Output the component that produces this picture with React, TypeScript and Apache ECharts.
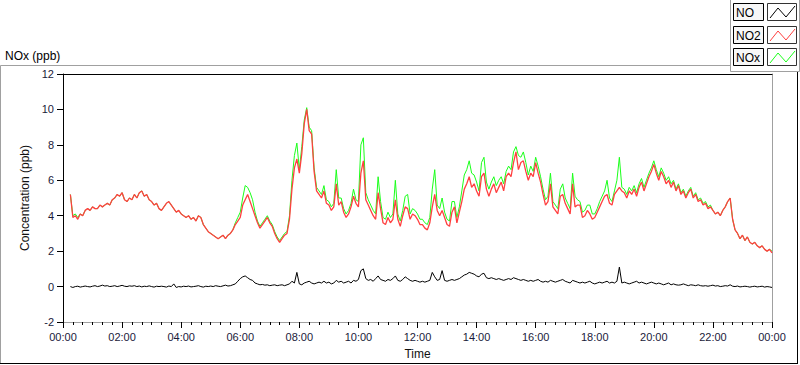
import React, { useEffect, useRef } from "react";
import * as echarts from "echarts";

// 5-minute samples, 00:00 .. 24:00 (289 points)
const STEP_MIN = 5;
const xTickLabels = ["00:00", "02:00", "04:00", "06:00", "08:00", "10:00", "12:00", "14:00", "16:00", "18:00", "20:00", "22:00", "00:00"];

const no2: (number | null)[] = [
  5.8, null, null, 5.2, 3.9, 4.0, 3.8, 4.1, 4.0, 4.3,
  4.4, 4.3, 4.5, 4.4, 4.4, 4.6, 4.5, 4.6, 4.7, 4.6,
  4.9, 5.0, 5.2, 5.1, 5.3, 4.9, 4.8, 5.0, 4.9, 5.2,
  5.0, 5.3, 5.4, 5.1, 5.2, 4.9, 4.8, 4.6, 4.7, 4.4,
  4.3, 4.5, 4.7, 4.8, 4.6, 4.4, 4.2, 4.3, 4.1, 4.0,
  3.9, 4.0, 3.8, 3.9, 3.7, 4.0, 3.9, 3.5, 3.3, 3.1,
  3.0, 2.9, 2.8, 2.7, 2.8, 2.9, 2.7, 2.9, 3.0, 3.2,
  3.5, 3.7, 3.9, 4.6, 4.9, 5.2, 4.8, 4.4, 4.0, 3.6,
  3.3, 3.5, 3.7, 3.9, 3.6, 3.4, 3.0, 2.7, 2.5, 2.7,
  2.9, 3.0, 3.8, 5.5, 6.7, 7.2, 6.4, 7.5, 9.2, 10.0,
  8.8, 8.6, 6.5, 5.4, 5.2, 5.0, 5.4, 4.7, 4.6, 4.3,
  4.5, 5.8, 4.6, 4.8, 4.2, 3.9, 4.1, 4.5, 5.1, 4.7,
  4.5, 6.4, 7.1, 4.9, 4.6, 4.3, 4.0, 3.8, 5.3, 4.4,
  3.6, 3.5, 3.9, 3.6, 3.8, 4.9, 3.8, 3.4, 4.0, 4.5,
  4.4, 3.8, 4.1, 4.0, 3.8, 3.5, 3.5, 3.3, 3.2, 3.6,
  4.5, 5.2, 4.3, 4.0, 4.3, 3.9, 3.5, 3.4, 4.2, 4.5,
  3.6, 4.2, 4.8, 5.5, 5.8, 6.2, 5.6, 5.8, 5.4, 5.1,
  6.2, 6.4, 5.5, 5.1, 5.5, 5.8, 5.3, 5.6, 5.9, 5.4,
  6.2, 6.4, 6.2, 7.0, 7.6, 6.6, 7.0, 7.1, 6.5, 6.0,
  6.4, 6.2, 7.0, 6.4, 5.9, 5.2, 4.6, 4.8, 5.8, 4.5,
  4.3, 4.1, 5.1, 5.2, 4.7, 4.4, 4.1, 5.8, 4.5, 4.6,
  4.6, 3.9, 4.0, 4.3, 4.1, 3.8, 3.9, 4.2, 4.5, 4.8,
  5.1, 5.2, 4.7, 4.6, 5.2, 5.4, 5.6, 5.4, 5.3, 5.0,
  5.4, 5.2, 5.5, 5.1, 5.6, 5.9, 5.4, 5.8, 6.2, 6.5,
  6.9, 6.4, 6.0, 6.5, 6.2, 5.8, 6.0, 5.6, 5.9, 5.4,
  5.7, 5.2, 5.4, 5.0, 5.3, 5.5, 5.0, 5.2, 4.8, 4.9,
  4.6, 4.7, 4.4, 4.5, 4.3, 4.1, 4.2, 4.0, 4.3, 4.5,
  4.8, 5.0, 3.8, 3.2, 3.0, 2.7, 2.9, 2.6, 2.8, 2.5,
  2.4, 2.5, 2.3, 2.2, 2.3, 2.1, 2.0, 2.1, 1.9,
];

const nox: (number | null)[] = [
  5.8, null, null, 5.2, 4.0, 4.1, 3.9, 4.1, 4.0, 4.3,
  4.4, 4.3, 4.5, 4.4, 4.4, 4.6, 4.5, 4.6, 4.7, 4.6,
  4.9, 5.0, 5.2, 5.1, 5.3, 4.9, 4.8, 5.0, 4.9, 5.2,
  5.0, 5.3, 5.4, 5.1, 5.2, 4.9, 4.8, 4.6, 4.7, 4.4,
  4.3, 4.5, 4.7, 4.8, 4.6, 4.4, 4.2, 4.3, 4.1, 4.0,
  3.9, 4.0, 3.8, 3.9, 3.7, 4.0, 3.9, 3.5, 3.3, 3.1,
  3.0, 2.9, 2.8, 2.7, 2.8, 2.9, 2.7, 2.9, 3.0, 3.2,
  3.6, 3.9, 4.2, 5.0, 5.7, 5.6, 5.3, 4.9, 4.2, 3.7,
  3.4, 3.6, 3.8, 4.0, 3.7, 3.5, 3.1, 2.8, 2.6, 2.8,
  3.0, 3.1, 4.0, 6.0, 7.4, 8.1, 6.6, 7.9, 9.4, 10.1,
  9.0, 8.8, 6.7, 5.6, 5.4, 5.2, 5.7, 4.9, 4.8, 4.5,
  4.7, 6.6, 5.0, 5.0, 4.4, 4.1, 4.3, 4.7, 5.5, 4.9,
  4.8, 8.0, 8.4, 5.3, 4.9, 4.6, 4.3, 4.1, 6.2, 4.8,
  3.9, 3.8, 4.2, 3.9, 4.1, 6.0, 4.1, 3.7, 4.3, 5.1,
  5.2, 4.1, 4.4, 4.3, 4.1, 3.8, 3.8, 3.6, 3.5, 3.9,
  5.5, 6.6, 4.6, 4.4, 5.0, 4.2, 3.8, 3.7, 4.8, 4.8,
  3.9, 4.5, 5.4, 6.3, 6.6, 7.1, 6.4, 6.3, 5.9, 5.4,
  7.0, 7.3, 5.9, 5.5, 5.9, 6.2, 5.7, 6.0, 6.2, 5.8,
  6.5, 6.8, 6.6, 7.6, 7.9, 7.4, 7.3, 7.6, 7.0, 6.3,
  6.8, 6.5, 7.3, 6.8, 6.2, 5.5, 4.9, 5.1, 6.4, 4.8,
  4.6, 4.4, 5.5, 5.8, 5.0, 4.7, 4.4, 6.4, 5.1, 4.9,
  4.8, 4.2, 4.3, 4.6, 4.6, 4.1, 4.1, 4.4, 4.8, 5.1,
  5.4, 6.0, 5.0, 4.8, 5.4, 6.0, 7.3, 5.6, 5.5, 5.2,
  5.6, 5.4, 5.7, 5.3, 5.8, 6.1, 5.6, 6.0, 6.4, 6.7,
  7.1, 6.6, 6.2, 6.7, 6.4, 6.0, 6.2, 5.8, 6.0, 5.5,
  5.8, 5.3, 5.5, 5.1, 5.4, 5.6, 5.1, 5.3, 4.9, 5.0,
  4.7, 4.8, 4.5, 4.6, 4.3, 4.1, 4.2, 4.0, 4.3, 4.5,
  4.8, 5.0, 3.8, 3.2, 3.0, 2.7, 2.9, 2.6, 2.8, 2.5,
  2.4, 2.5, 2.3, 2.2, 2.3, 2.1, 2.0, 2.1, 2.0,
];

const no: (number | null)[] = [
  0.0, null, null, 0.0, -0.05, 0.0, 0.02, -0.03, 0.0, 0.03,
  0.0, -0.02, 0.02, 0.05, 0.0, 0.03, 0.08, 0.03, 0.05, 0.0,
  0.02, 0.05, 0.0, 0.03, 0.07, 0.02, 0.0, 0.04, 0.02, 0.05,
  0.0, 0.03, -0.02, 0.02, 0.0, 0.04, 0.0, -0.03, 0.02, 0.0,
  0.02, 0.0, -0.03, 0.03, 0.0, 0.15, -0.05, 0.0, -0.02, 0.02,
  0.0, 0.03, -0.02, 0.0, 0.02, 0.05, 0.0, -0.03, 0.02, 0.0,
  0.03, 0.0, 0.05, 0.02, 0.0, 0.04, 0.08, 0.03, 0.05, 0.1,
  0.15, 0.3, 0.45, 0.55, 0.6, 0.5, 0.4, 0.35, 0.2, 0.15,
  0.1, 0.12, 0.08, 0.1, 0.05, 0.08, 0.1, 0.05, 0.08, 0.1,
  0.05, 0.1, 0.15, 0.3, 0.2, 0.8, 0.15, 0.1, 0.2, 0.25,
  0.3, 0.2, 0.15, 0.2, 0.25, 0.2, 0.3, 0.2, 0.25, 0.15,
  0.2, 0.35, 0.25, 0.3, 0.2, 0.25, 0.3, 0.2, 0.35, 0.3,
  0.4, 0.9, 1.0, 0.45, 0.35, 0.4, 0.3, 0.45, 0.6, 0.4,
  0.35, 0.3, 0.4, 0.35, 0.45, 0.6, 0.35, 0.3, 0.4, 0.55,
  0.45, 0.35, 0.3, 0.35, 0.3, 0.25, 0.3, 0.25, 0.3, 0.35,
  0.8, 0.55, 0.35, 0.4, 0.9, 0.35, 0.3, 0.35, 0.4, 0.35,
  0.4, 0.45, 0.55, 0.65, 0.7, 0.8, 0.75, 0.7, 0.6, 0.55,
  0.7, 0.75, 0.5, 0.45, 0.5, 0.45, 0.4, 0.45, 0.4, 0.35,
  0.4, 0.45, 0.4, 0.5, 0.45, 0.4, 0.35, 0.4, 0.35, 0.3,
  0.35, 0.3, 0.35, 0.4, 0.3, 0.25, 0.3, 0.25, 0.35, 0.3,
  0.25, 0.3, 0.35, 0.4, 0.3, 0.25, 0.2, 0.35, 0.3, 0.25,
  0.2, 0.25, 0.2, 0.25, 0.3, 0.2, 0.15, 0.2, 0.25, 0.2,
  0.25, 0.3, 0.2, 0.25, 0.2, 0.3, 1.1, 0.2, 0.25, 0.2,
  0.15, 0.2, 0.25, 0.3, 0.2, 0.25, 0.2, 0.15, 0.2, 0.25,
  0.2, 0.15, 0.2, 0.15, 0.1, 0.15, 0.2, 0.1, 0.15, 0.1,
  0.08, 0.1, 0.15, 0.1, 0.05, 0.1, 0.08, 0.05, 0.1, 0.05,
  0.03, 0.05, 0.02, 0.05, 0.08, 0.03, 0.05, 0.0, 0.02, 0.05,
  0.03, 0.1, 0.02, 0.0, 0.03, -0.02, 0.0, 0.02, 0.0, -0.03,
  0.0, 0.02, -0.02, 0.0, 0.02, -0.03, 0.0, -0.02, -0.05,
];

const seriesNames = ["NO", "NO2", "NOx"];
const seriesColors = ["#000000", "#ff4040", "#1aff1a"];

const FONT = "'Liberation Sans', Arial, sans-serif";

function toPairs(vals: (number | null)[]) {
  return vals.map((v, i) => [i * STEP_MIN, v]);
}

function legendGraphics() {
  const tops = [3, 26, 48];
  const els: any[] = [];
  seriesNames.forEach((name, k) => {
    const t = tops[k];
    els.push({
      type: "rect",
      shape: { x: 733.5, y: t + 0.5, width: 30, height: 17 },
      style: { fill: "#f7f7f7", stroke: "#000", lineWidth: 1 },
    });
    els.push({
      type: "text",
      x: 736,
      y: t + 9.5,
      style: { text: name, font: `12px ${FONT}`, fill: "#000", verticalAlign: "middle", align: "left" },
    });
    els.push({
      type: "rect",
      shape: { x: 767.5, y: t + 0.5, width: 29, height: 17 },
      style: { fill: "#fff", stroke: "#333", lineWidth: 1 },
    });
    els.push({
      type: "polyline",
      shape: { points: [[770, t + 15], [778, t + 5], [786, t + 14], [795, t + 3]] },
      style: { stroke: seriesColors[k], lineWidth: 1, fill: "none" },
    });
  });
  // legend panel borders
  els.push({ type: "line", shape: { x1: 730.5, y1: 0, x2: 730.5, y2: 71.5 }, style: { stroke: "#a0a0a0", lineWidth: 1 } });
  els.push({ type: "line", shape: { x1: 730.5, y1: 71.5, x2: 799.5, y2: 71.5 }, style: { stroke: "#a0a0a0", lineWidth: 1 } });
  els.push({ type: "line", shape: { x1: 799.5, y1: 0, x2: 799.5, y2: 71.5 }, style: { stroke: "#a0a0a0", lineWidth: 1 } });
  // outer frame
  els.push({ type: "line", shape: { x1: 0.5, y1: 65.5, x2: 730.5, y2: 65.5 }, style: { stroke: "#a0a0a0", lineWidth: 1 } });
  els.push({ type: "line", shape: { x1: 0.5, y1: 65.5, x2: 0.5, y2: 363.5 }, style: { stroke: "#a0a0a0", lineWidth: 1 } });
  els.push({ type: "line", shape: { x1: 0, y1: 363.5, x2: 798, y2: 363.5 }, style: { stroke: "#000", lineWidth: 1 } });
  els.push({ type: "line", shape: { x1: 797.5, y1: 72, x2: 797.5, y2: 364 }, style: { stroke: "#000", lineWidth: 1 } });
  // title
  els.push({
    type: "text",
    x: 5,
    y: 56,
    style: { text: "NOx (ppb)", font: `12px ${FONT}`, fill: "#000", verticalAlign: "middle" },
  });
  return els;
}

function fmtTime(v: number) {
  const idx = Math.round(v / 120);
  return xTickLabels[idx] ?? "";
}

export default function App() {
  const ref = useRef<HTMLDivElement>(null);
  useEffect(() => {
    if (!ref.current) return;
    const chart = echarts.init(ref.current, null, { renderer: "svg" });
    chart.setOption({
      animation: false,
      backgroundColor: "#ffffff",
      textStyle: { fontFamily: FONT },
      grid: { left: 63, right: 28, top: 74, bottom: 43, containLabel: false },
      xAxis: [
        {
          type: "value",
          position: "bottom",
          min: 0,
          max: 1440,
          interval: 120,
          name: "Time",
          nameLocation: "middle",
          nameGap: 26,
          nameTextStyle: { fontSize: 12, color: "#111", fontFamily: FONT },
          axisLine: { show: true, onZero: false, lineStyle: { color: "#a0a0a0", width: 1 } },
          axisTick: { show: true, length: 6, lineStyle: { color: "#000" } },
          minorTick: { show: true, splitNumber: 6, length: 3, lineStyle: { color: "#000" } },
          axisLabel: { formatter: fmtTime, fontSize: 11, color: "#1a1a3a", margin: 9, fontFamily: FONT },
          splitLine: { show: false },
        },
        {
          type: "value",
          position: "top",
          min: 0,
          max: 1440,
          axisLine: { show: true, onZero: false, lineStyle: { color: "#000", width: 1 } },
          axisTick: { show: false },
          axisLabel: { show: false },
          splitLine: { show: false },
        },
      ],
      yAxis: [
        {
          type: "value",
          position: "left",
          min: -2,
          max: 12,
          interval: 2,
          name: "Concentration (ppb)",
          nameLocation: "middle",
          nameGap: 24,
          nameTextStyle: { fontSize: 12, color: "#111", fontFamily: FONT },
          axisLine: { show: true, onZero: false, lineStyle: { color: "#000", width: 1 } },
          axisTick: { show: true, length: 6, lineStyle: { color: "#000" } },
          axisLabel: { fontSize: 11, color: "#1a1a3a", margin: 9, fontFamily: FONT },
          splitLine: { show: false },
        },
        {
          type: "value",
          position: "right",
          min: -2,
          max: 12,
          axisLine: { show: true, onZero: false, lineStyle: { color: "#a0a0a0", width: 1 } },
          axisTick: { show: false },
          axisLabel: { show: false },
          splitLine: { show: false },
        },
      ],
      series: [
        {
          name: "NO",
          type: "line",
          data: toPairs(no),
          showSymbol: false,
          lineStyle: { color: seriesColors[0], width: 1 },
          itemStyle: { color: seriesColors[0] },
          connectNulls: false,
          z: 3,
        },
        {
          name: "NOx",
          type: "line",
          data: toPairs(nox),
          showSymbol: false,
          lineStyle: { color: seriesColors[2], width: 1 },
          itemStyle: { color: seriesColors[2] },
          connectNulls: false,
          z: 2,
        },
        {
          name: "NO2",
          type: "line",
          data: toPairs(no2),
          showSymbol: false,
          lineStyle: { color: seriesColors[1], width: 1.3 },
          itemStyle: { color: seriesColors[1] },
          connectNulls: false,
          z: 4,
        },
      ],
      graphic: legendGraphics(),
    });
    return () => chart.dispose();
  }, []);
  return <div ref={ref} style={{ position: "fixed", left: 0, top: 0, width: 800, height: 365 }} />;
}
